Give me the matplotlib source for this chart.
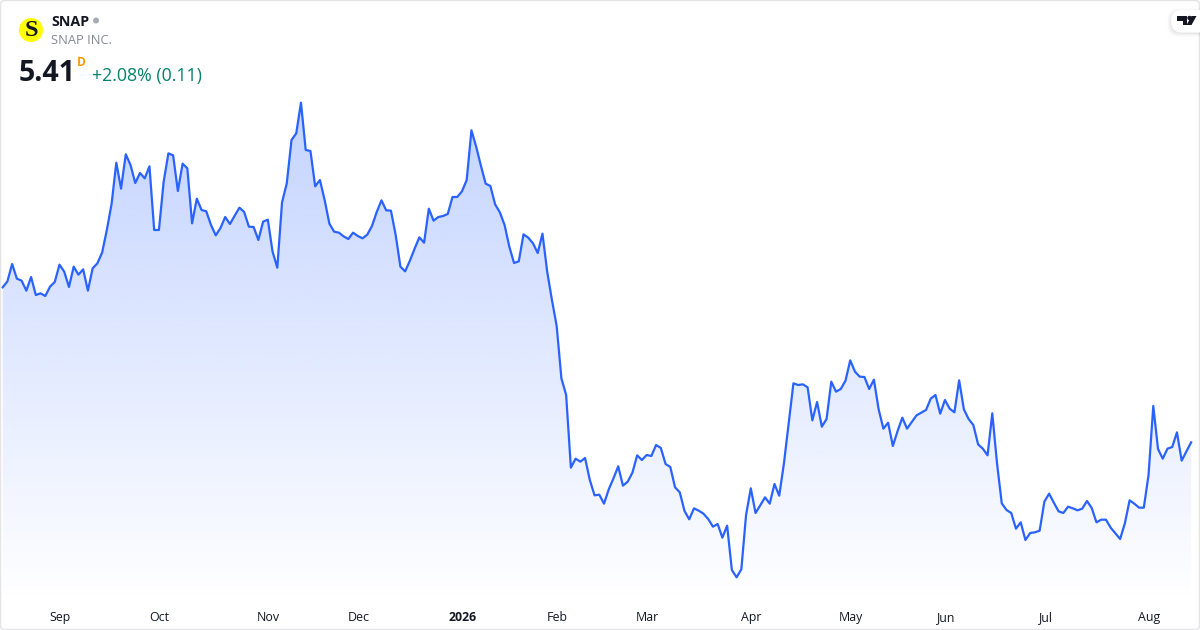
import matplotlib
matplotlib.use('Agg')
from matplotlib import pyplot as plt
from matplotlib.patches import Circle, FancyBboxPatch, Polygon
import numpy as np

plt.rcParams['font.family'] = ['Open Sans', 'DejaVu Sans']

# closes, one per trading day
closes_2025_a = [6.340, 6.376, 6.480, 6.392, 6.380, 6.320, 6.402, 6.294, 6.304, 6.288,
                 6.344, 6.372, 6.476, 6.434, 6.342, 6.464, 6.416, 6.448, 6.320, 6.454,
                 6.484, 6.548, 6.684, 6.840, 7.088, 6.932, 7.138, 7.074, 6.966, 7.026,
                 6.994, 7.066, 6.684, 6.684, 6.974, 7.144, 7.132, 6.918, 7.082, 7.054,
                 6.724, 6.872, 6.804, 6.796, 6.714, 6.652, 6.696, 6.762, 6.720, 6.770,
                 6.818, 6.792, 6.704, 6.702, 6.624, 6.734, 6.746, 6.554, 6.458, 6.850,
                 6.964, 7.224, 7.264, 7.448]
closes_2025_b = [7.164, 7.158, 6.946, 6.984, 6.864, 6.722, 6.674, 6.668, 6.646, 6.630,
                 6.668, 6.648, 6.634, 6.656, 6.708, 6.792, 6.862, 6.802, 6.800, 6.654,
                 6.464, 6.436, 6.500, 6.572, 6.640, 6.608, 6.812, 6.740, 6.762, 6.768,
                 6.780, 6.882, 6.882, 6.916, 6.984, 7.282, 7.184, 7.070, 6.962, 6.948,
                 6.838, 6.790, 6.714, 6.584, 6.486, 6.496, 6.658, 6.638, 6.604, 6.546,
                 6.662, 6.434, 6.264, 6.108]
closes_2026_a = [5.794, 5.694, 5.258, 5.312, 5.294, 5.316, 5.184, 5.092, 5.096, 5.042,
                 5.128, 5.194, 5.266, 5.150, 5.174, 5.228, 5.332, 5.304, 5.334, 5.328,
                 5.394, 5.376, 5.280, 5.262, 5.140, 5.110, 4.998, 4.948, 5.014, 5.000,
                 4.982, 4.950, 4.904, 4.920, 4.838, 4.910, 4.644, 4.600, 4.648, 4.974,
                 5.134, 4.986, 5.032, 5.080, 5.042, 5.160, 5.090, 5.284, 5.524, 5.764,
                 5.754, 5.758, 5.740, 5.542, 5.652, 5.504, 5.550, 5.774, 5.714]
closes_2026_b = [5.730, 5.780, 5.902, 5.834, 5.804, 5.802, 5.730, 5.786, 5.608, 5.492,
                 5.528, 5.388, 5.478, 5.558, 5.492, 5.532, 5.572, 5.588, 5.604, 5.672,
                 5.694, 5.582, 5.664, 5.612, 5.590, 5.782, 5.608, 5.550, 5.514, 5.398,
                 5.372, 5.332, 5.584, 5.284]
closes_2026_c = [5.044, 5.004, 4.986, 4.892, 4.930, 4.824, 4.866, 4.870, 4.880, 5.054,
                 5.102, 5.048, 4.996, 4.986, 5.024, 5.014, 5.002, 5.012, 5.058, 5.016,
                 4.930, 4.946, 4.946, 4.898, 4.864, 4.830, 4.924, 5.062, 5.042, 5.018,
                 5.018, 5.214, 5.628, 5.370, 5.312, 5.372, 5.382, 5.470, 5.300, 5.356,
                 5.410]
closes = closes_2025_a + closes_2025_b + closes_2026_a + closes_2026_b + closes_2026_c

tick_days = [12.15, 33.1, 56.1, 75.1, 97.1, 117.15, 136.15, 158.1, 179.1, 199.1, 220.1, 242.15]
tick_labels = ['Sep', 'Oct', 'Nov', 'Dec', '2026', 'Feb', 'Mar', 'Apr', 'May', 'Jun', 'Jul', 'Aug']

symbol = 'SNAP'
company = 'SNAP INC.'
last_price = '5.41'
change_text = '+2.08% (0.11)'

W, H = 1200, 630
AX_BOTTOM = 603
DAY_PX = 4.735
X0 = 2.67

fig = plt.figure(figsize=(W / 100, H / 100), dpi=100, facecolor='white')
ax = fig.add_axes([0, 1 - AX_BOTTOM / H, 1, AX_BOTTOM / H])
ax.patch.set_alpha(0)
for s in ax.spines.values():
    s.set_visible(False)

days = np.arange(len(closes))
xlim = (-X0 / DAY_PX, (W - X0) / DAY_PX)
ylim = (8.064 - 0.006 * AX_BOTTOM, 8.064)

# gradient under the line, clipped to the area
area = ax.fill_between(days, closes, ylim[0], color='none', lw=0)
grad = np.zeros((256, 1, 4))
grad[:, 0, :3] = np.array([41, 98, 255]) / 255
grad[:, 0, 3] = np.linspace(0.28, 0.0, 256)
top_px = 102
img = ax.imshow(grad, extent=(xlim[0], xlim[1], ylim[0], 8.064 - 0.006 * top_px),
                aspect='auto', origin='upper', zorder=1)
img.set_clip_path(area.get_paths()[0], transform=ax.transData)

ax.plot(days, closes, color='#2962FF', lw=1.6, solid_joinstyle='round', zorder=2)
ax.set_xlim(xlim)
ax.set_ylim(ylim)
ax.set_yticks([])
ax.set_xticks(tick_days)
ax.set_xticklabels(tick_labels, fontsize=8.9, color='#131722')
ax.tick_params(axis='x', length=0, pad=5.6)
for lab in ax.get_xticklabels():
    if lab.get_text() == '2026':
        lab.set_fontweight('bold')

# header, logo and frame in pixel coordinates
ov = fig.add_axes([0, 0, 1, 1])
ov.set_xlim(0, W)
ov.set_ylim(H, 0)
ov.axis('off')
ov.patch.set_alpha(0)

ov.add_patch(FancyBboxPatch((0.5, 0.5), W - 1, H - 1, boxstyle='round,pad=0,rounding_size=4',
                            fc='none', ec='#e4e4e6', lw=1.0))

ov.add_patch(Circle((31, 30), 12, fc='#ffff00', ec='none'))
ov.text(31, 31, 'S', family=['Liberation Serif'], fontweight='bold', fontsize=17.5,
        color='#131722', ha='center', va='center')
ov.text(51, 21.5, symbol, fontsize=10.3, fontweight='bold', color='#131722', va='center')
ov.add_patch(Circle((96, 20.5), 3, fc='#a8abb3', ec='none'))
ov.text(51, 41, company, fontsize=9.3, color='#868993', va='center')
ov.text(19, 73.5, last_price, fontsize=20.5, fontweight='bold', color='#131722', va='center')
ov.text(77, 62, 'D', fontsize=8.6, fontweight='bold', color='#ff9800', va='center')
ov.text(92, 76, change_text, fontsize=12.8, color='#06806c', va='center')

# TradingView badge
for off, a in [(4, 0.012), (3, 0.018), (2, 0.025), (1, 0.035)]:
    ov.add_patch(FancyBboxPatch((1171 - off, 11 - off + 1), 50 + 2 * off, 21 + 2 * off,
                                boxstyle='round,pad=0,rounding_size=11',
                                fc='black', ec='none', alpha=a))
ov.add_patch(FancyBboxPatch((1171, 10), 50, 22.5, boxstyle='round,pad=0,rounding_size=11',
                            fc='white', ec='none'))
ov.add_patch(Polygon([(1177, 16), (1187, 16), (1187, 25), (1182.5, 25), (1182.5, 20.5), (1177, 20.5)],
                     fc='#131722', ec='none'))
ov.add_patch(Circle((1189.5, 18), 2.2, fc='#131722', ec='none'))
ov.add_patch(Polygon([(1191.5, 16), (1196.5, 16), (1191.5, 25), (1186.5, 25)], fc='#131722', ec='none'))

fig.savefig('out.png', dpi=100)
